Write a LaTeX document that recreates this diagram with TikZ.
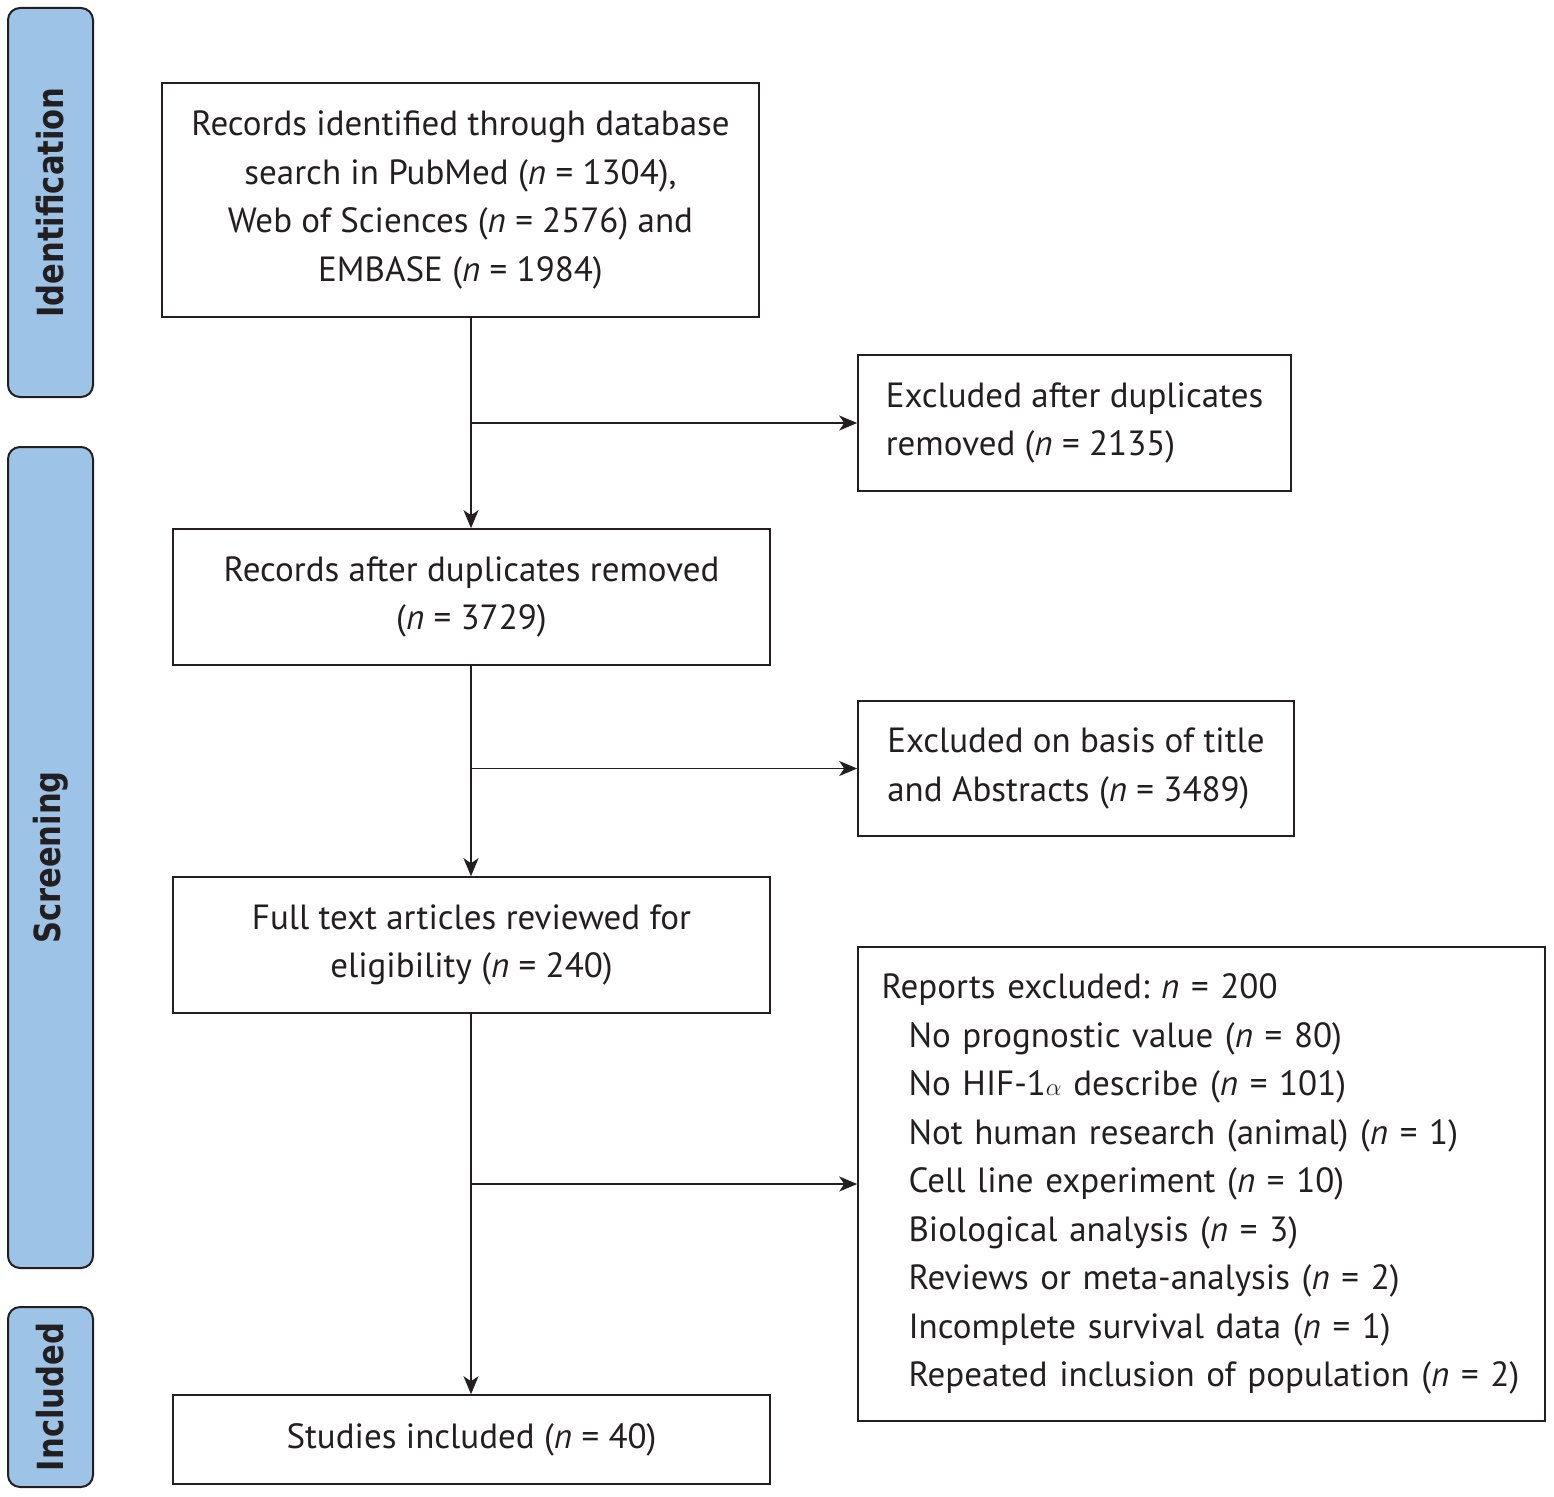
\documentclass[tikz,border=0pt]{standalone}
\usepackage{fontspec}
\setmainfont{PT Sans}
\newfontfamily\sidefont[FakeStretch=0.85]{DejaVu Sans}
\usetikzlibrary{arrows.meta}
\definecolor{sideblue}{HTML}{9DC3E6}
\definecolor{ink}{HTML}{231F20}
\frenchspacing
\tikzset{
  side/.style={draw=ink, line width=2pt, fill=sideblue, rounded corners=12pt, minimum width=85pt, inner sep=0pt},
  sidetext/.style={rotate=90, font=\sidefont\bfseries\fontsize{36}{40}\selectfont, text=ink},
  box/.style={draw=ink, line width=1.6pt, inner sep=0pt, align=center, font=\fontsize{35}{48.5}\selectfont, text=ink},
  lbox/.style={draw=ink, line width=1.6pt, inner sep=0pt, align=left, font=\fontsize{35}{48.5}\selectfont, text=ink},
  arr/.style={draw=ink, line width=1.6pt, -{Stealth[length=18pt,width=15pt,inset=5pt]}},
}
\newcommand{\nn}{\textit{n}}
\begin{document}
\begin{tikzpicture}[x=1pt,y=-1pt]
\useasboundingbox (0,0) rectangle (1554,1496);
% side bars
\node[side, minimum height=389pt] (sid) at (50.5,202.5) {};
\node[sidetext] (sidt) at (sid.center) {Identification};
\node[side, minimum height=821pt] (sscr) at (50.5,857.5) {};
\node[sidetext] (sscrt) at (sscr.center) {Screening};
\node[side, minimum height=180pt] (sinc) at (50.5,1397) {};
\node[sidetext] (sinct) at (sinc.center) {Included};
% main boxes
\node[box, minimum width=597pt, minimum height=234pt] (b1) at (460.5,200) {Records identified through database\\search in PubMed (\nn{} = 1304),\\Web of Sciences (\nn{} = 2576) and\\EMBASE (\nn{} = 1984)};
\node[box, minimum width=597pt, minimum height=136pt] (b2) at (471.5,597) {Records after duplicates removed\\(\nn{} = 3729)};
\node[box, minimum width=597pt, minimum height=136pt] (b3) at (471.5,945) {Full text articles reviewed for\\eligibility (\nn{} = 240)};
\node[box, minimum width=597pt, minimum height=89pt] (b4) at (471.5,1439.5) {Studies included (\nn{} = 40)};
% exclusion boxes
\node[lbox, minimum width=433pt, minimum height=136pt] (e1) at (1074.5,423) {Excluded after duplicates\\removed (\nn{} = 2135)};
\node[lbox, minimum width=436pt, minimum height=135pt] (e2) at (1076,768.5) {Excluded on basis of title\\and Abstracts (\nn{} = 3489)};
\node[lbox, minimum width=687pt, minimum height=474pt, text width=640pt] (e3) at (1201.5,1184) {Reports excluded: \nn{} = 200\\
\hspace*{27pt}No prognostic value (\nn{} = 80)\\
\hspace*{27pt}No HIF-1$\alpha$ describe (\nn{} = 101)\\
\hspace*{27pt}Not human research (animal) (\nn{} = 1)\\
\hspace*{27pt}Cell line experiment (\nn{} = 10)\\
\hspace*{27pt}Biological analysis (\nn{} = 3)\\
\hspace*{27pt}Reviews or meta-analysis (\nn{} = 2)\\
\hspace*{27pt}Incomplete survival data (\nn{} = 1)\\
\hspace*{27pt}Repeated inclusion of population (\nn{} = 2)};
% trunk
\coordinate (c) at (471,0);
\draw[arr] (b1.south -| c) -- (b2.north -| c);
\draw[arr] (b2.south -| c) -- (b3.north -| c);
\draw[arr] (b3.south -| c) -- (b4.north -| c);
\draw[arr] (e1.west -| c) -- (e1.west);
\draw[arr] (e2.west -| c) -- (e2.west);
\draw[arr] (e3.west -| c) -- (e3.west);
\end{tikzpicture}
\end{document}
